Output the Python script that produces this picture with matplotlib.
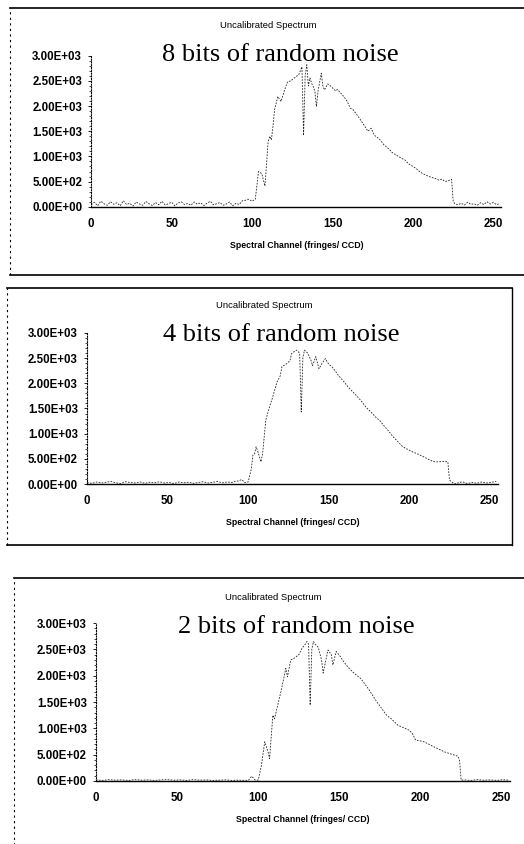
import matplotlib.pyplot as plt
from matplotlib.ticker import MultipleLocator, FuncFormatter
from matplotlib.lines import Line2D

# ---- data (channel, counts) ----
titles = ['8 bits of random noise', '4 bits of random noise', '2 bits of random noise']

ch_8 = [0, 2, 4, 6, 8, 10, 12, 14, 16, 18, 20, 22, 24, 26, 28, 30, 32, 34, 36, 38,
        40, 42, 44, 46, 48, 50, 52, 54, 56, 58, 60, 62, 64, 66, 68, 70, 72, 74, 76, 78,
        80, 82, 84, 86, 88, 90, 92, 94, 96, 98, 100, 102, 104, 106, 108, 110, 111, 112,
        113, 114, 116, 118, 120, 122, 124, 126, 128, 129, 131, 132, 133, 134, 135, 136,
        137, 138, 139, 140, 141, 143, 144, 145, 147, 148, 150, 152, 153, 155, 157, 159,
        161, 163, 166, 169, 172, 174, 176, 179, 182, 185, 187, 189, 191, 193, 195, 197,
        200, 202, 204, 206, 208, 210, 212, 214, 216, 218, 220, 222, 224, 225, 226, 228,
        230, 232, 234, 236, 238, 240, 242, 244, 246, 248, 250, 252, 254]
cnt_8 = [40, 90, 20, 110, 60, 30, 100, 50, 80, 20, 120, 45, 70, 15, 95, 55, 30, 105,
         60, 25, 85, 40, 110, 35, 60, 90, 20, 75, 100, 45, 65, 30, 95, 50, 80, 25, 70,
         110, 40, 60, 85, 30, 55, 95, 20, 70, 45, 120, 130, 150, 110, 150, 700, 660,
         410, 1300, 1400, 1330, 1600, 1930, 2190, 2090, 2300, 2480, 2500, 2550, 2600,
         2620, 2780, 1420, 2600, 2820, 2400, 2560, 2450, 2390, 2300, 1990, 2300, 2650,
         2400, 2320, 2440, 2420, 2360, 2300, 2330, 2260, 2190, 2100, 1960, 1920, 1790,
         1650, 1500, 1560, 1420, 1350, 1230, 1150, 1080, 1040, 1000, 960, 930, 860, 800,
         760, 700, 660, 630, 600, 580, 560, 530, 550, 500, 520, 545, 110, 60, 40, 70,
         35, 90, 50, 60, 30, 80, 45, 100, 55, 85, 40, 70]

ch_4 = [0, 3, 6, 9, 12, 15, 18, 21, 24, 27, 30, 33, 36, 39, 42, 45, 48, 51, 54, 57,
        60, 63, 66, 69, 72, 75, 78, 81, 84, 87, 90, 92, 94, 96, 98, 100, 102, 103, 104,
        105, 106, 108, 109, 111, 113, 115, 118, 120, 121, 124, 126, 127, 129, 130, 132,
        133, 134, 135, 137, 139, 140, 142, 144, 146, 148, 150, 152, 154, 156, 159, 162,
        165, 168, 171, 173, 176, 179, 182, 184, 187, 190, 193, 196, 199, 202, 205, 209,
        212, 215, 218, 221, 223, 224, 225, 226, 228, 230, 233, 236, 239, 242, 245, 248,
        251, 254]
cnt_4 = [30, 15, 40, 20, 35, 50, 25, 10, 45, 30, 20, 40, 15, 35, 25, 45, 20, 30, 10,
         40, 25, 35, 15, 30, 45, 20, 35, 50, 25, 40, 30, 55, 60, 90, 30, 40, 300, 575,
         600, 740, 650, 440, 600, 1270, 1500, 1700, 2030, 2150, 2330, 2390, 2450, 2590,
         2640, 2660, 2600, 1430, 2500, 2660, 2600, 2460, 2350, 2530, 2290, 2400, 2490,
         2380, 2330, 2250, 2160, 2050, 1930, 1830, 1730, 1620, 1530, 1440, 1335, 1250,
         1170, 1060, 940, 840, 740, 690, 640, 600, 540, 490, 445, 440, 450, 445, 440,
         80, 50, 0, 20, 45, 10, 30, 15, 40, 20, 35, 50]

ch_2 = [0, 4, 8, 12, 16, 20, 24, 28, 32, 36, 40, 44, 48, 52, 56, 60, 64, 68, 72, 76,
        80, 84, 88, 92, 94, 96, 98, 100, 102, 104, 106, 107, 109, 110, 112, 114, 117,
        118, 120, 122, 125, 127, 129, 130, 131, 132, 133, 134, 135, 137, 139, 140, 142,
        143, 145, 146, 148, 150, 153, 156, 159, 163, 165, 167, 170, 173, 176, 179, 182,
        186, 189, 193, 195, 197, 200, 202, 205, 208, 211, 215, 218, 221, 223, 224, 225,
        227, 231, 235, 239, 243, 247, 251, 254]
cnt_2 = [20, 10, 25, 15, 20, 10, 25, 15, 20, 10, 20, 25, 15, 20, 10, 25, 15, 20, 10,
         15, 20, 10, 15, 10, 15, 90, 20, 15, 300, 745, 560, 425, 1250, 1180, 1440, 1700,
         2140, 1980, 2300, 2330, 2400, 2525, 2600, 2650, 2600, 1440, 2500, 2650, 2600,
         2540, 2300, 2050, 2350, 2490, 2400, 2205, 2460, 2390, 2250, 2140, 2050, 1950,
         1870, 1790, 1650, 1505, 1380, 1250, 1180, 1060, 1020, 965, 900, 775, 760, 745,
         700, 650, 610, 550, 520, 490, 470, 395, 15, 20, 10, 25, 15, 20, 10, 25, 15]

channels = [ch_8, ch_4, ch_2]
counts = [cnt_8, cnt_4, cnt_2]

W, H = 524, 844
# axes rectangles (figure fraction), panel frames and text anchors (pixels)
axes_pos = [[0.174, 0.755, 0.783, 0.179],
            [0.166, 0.4265, 0.784, 0.179],
            [0.183, 0.0747, 0.790, 0.187]]
frames = [(10, 8, 530, 275), (7, 288, 512, 545), (14, 578, 530, 850)]
head_xy = [(268, 26), (264, 305), (273, 598)]
note_xy = [(280, 55), (281, 335), (296, 627)]

fig = plt.figure(figsize=(W / 100, H / 100), dpi=100)
fig.patch.set_facecolor('white')

for (x0, y0, x1, y1) in frames:
    fx0, fx1 = x0 / W, x1 / W
    fy0, fy1 = 1 - y1 / H, 1 - y0 / H
    fig.add_artist(Line2D([fx0, fx1], [fy1, fy1], color='black', lw=1.2))
    fig.add_artist(Line2D([fx0, fx1], [fy0, fy0], color='black', lw=1.2))
    fig.add_artist(Line2D([fx0, fx0], [fy0, fy1], color='black', lw=0.8,
                          linestyle=(0, (2, 3))))
    fig.add_artist(Line2D([fx1, fx1], [fy0, fy1], color='black', lw=1.0))

sans = 'Liberation Sans'
for i in range(3):
    ax = fig.add_axes(axes_pos[i])
    ax.plot(channels[i], counts[i], color='#222222', lw=0.6, linestyle=(0, (2, 1.6)),
            clip_on=False)
    ax.set_xlim(0, 255)
    ax.set_ylim(0, 3000)
    ax.set_xticks([0, 50, 100, 150, 200, 250])
    ax.yaxis.set_major_locator(MultipleLocator(500))
    ax.yaxis.set_minor_locator(MultipleLocator(100))
    ax.yaxis.set_major_formatter(FuncFormatter(lambda v, p: f'{v:.2E}'))
    for s in ['top', 'right']:
        ax.spines[s].set_visible(False)
    ax.spines['left'].set_linestyle((0, (1, 1.5)))
    ax.spines['left'].set_linewidth(0.8)
    ax.spines['bottom'].set_linewidth(1.0)
    ax.tick_params(axis='x', length=0, pad=8, labelsize=8.3)
    ax.tick_params(axis='y', which='major', length=2.5, width=0.6, pad=4, labelsize=8.3)
    ax.tick_params(axis='y', which='minor', length=1.8, width=0.5)
    for lab in ax.get_xticklabels() + ax.get_yticklabels():
        lab.set_fontfamily(sans)
        lab.set_fontweight('bold')
    ax.set_xlabel('Spectral Channel (fringes/ CCD)', fontsize=6.3, fontfamily=sans,
                  fontweight='bold', labelpad=8)
    hx, hy = head_xy[i]
    fig.text(hx / W, 1 - hy / H, 'Uncalibrated Spectrum', ha='center', va='center',
             fontsize=6.8, fontfamily=sans)
    nx, ny = note_xy[i]
    fig.text(nx / W, 1 - ny / H, titles[i], ha='center', va='center',
             fontsize=19, fontfamily='Liberation Serif')

fig.savefig('out.png', dpi=100)
